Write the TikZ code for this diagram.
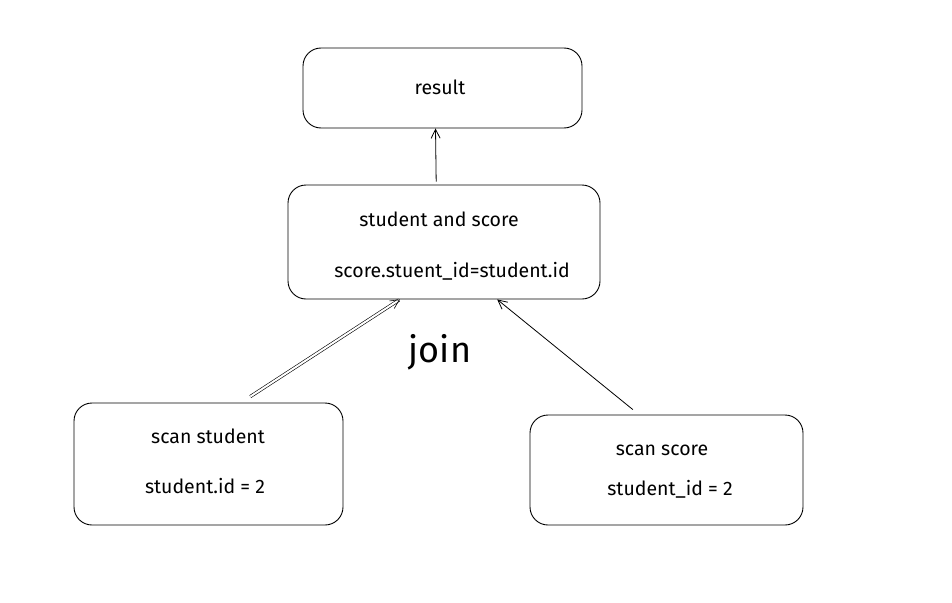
\documentclass[tikz,border=0pt]{standalone}
\usepackage{fontspec}
\setmainfont{Fira Sans}
\usetikzlibrary{arrows.meta,calc}
\tikzset{
  box/.style={draw=black, line width=0.9pt, rounded corners=18pt, inner sep=0pt},
  lbl/.style={font=\fontsize{19.5}{22}\selectfont, inner sep=0pt},
  conn/.style={draw=black, line width=0.8pt, -{Straight Barb[length=9pt,width=9pt]}}
}
\begin{document}
\begin{tikzpicture}[x=1pt,y=-1pt]
\useasboundingbox[fill=white] (0,0) rectangle (952,602);
\node[box, minimum width=279pt, minimum height=80pt] (res) at (442.5,88) {};
\node[box, minimum width=312pt, minimum height=114pt] (join) at (444,242) {};
\node[box, minimum width=269pt, minimum height=122pt] (sst) at (208.5,464) {};
\node[box, minimum width=273pt, minimum height=110pt] (ssc) at (666.5,470) {};
\node[lbl] (tres) at (440,87) {result};
\node[lbl] (tj1) at (439,219) {student and score};
\node[lbl] (tj2) at (452,271) {score.stuent\_id=student.id};
\node[lbl] (ts1) at (208,436) {scan student};
\node[lbl] (ts2) at (205,486) {student.id = 2};
\node[lbl] (tc1) at (662,450) {scan score};
\node[lbl] (tc2) at (670,489) {student\_id = 2};
\node[font=\fontsize{36}{40}\selectfont, inner sep=0pt] (tjoin) at (440,352) {join};
\coordinate (a1) at ($(join.north west)!0.475!(join.north east)+(0,-3)$);
\coordinate (a1e) at ($(res.south west)!0.475!(res.south east)$);
\draw[conn] (a1) -- (a1e);
\coordinate (b1) at ($(sst.north west)!0.655!(sst.north east)+(0,-6)$);
\coordinate (b1e) at ($(join.south west)!0.359!(join.south east)$);
\draw[conn, double, double distance=2pt, line width=0.6pt] (b1) -- (b1e);
\coordinate (c1) at ($(ssc.north west)!0.377!(ssc.north east)+(0,-5)$);
\coordinate (c1e) at ($(join.south west)!0.67!(join.south east)$);
\draw[conn] (c1) -- (c1e);
\end{tikzpicture}
\end{document}
